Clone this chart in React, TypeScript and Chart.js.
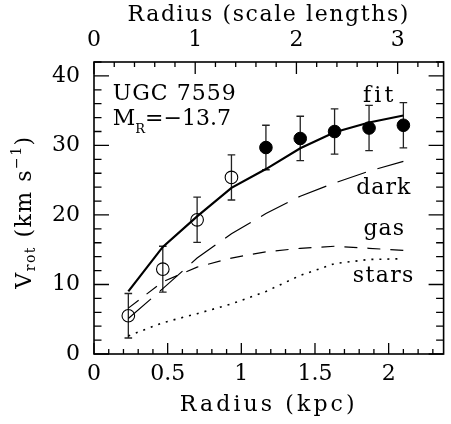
import React, { useEffect, useRef } from "react";
import { Chart, registerables } from "chart.js";

Chart.register(...registerables);

const FONT = '"DejaVu Serif", serif';

// Observed rotation curve (open = inner, filled = outer points)
const openRadius = [0.233, 0.467, 0.7, 0.933];
const openVel = [5.5, 12.2, 19.3, 25.4];
const openErr = [3.2, 3.3, 3.25, 3.25];

const filledRadius = [1.167, 1.4, 1.633, 1.867, 2.1];
const filledVel = [29.7, 31.0, 32.0, 32.5, 32.9];
const filledErr = [3.2, 3.2, 3.25, 3.25, 3.25];

// Mass model components
const modelRadius = [0.233, 0.467, 0.7, 0.933, 1.167, 1.4, 1.633, 1.867, 2.1];
const fitVel = [9.0, 15.4, 19.8, 23.9, 26.6, 29.6, 31.9, 33.3, 34.3];
const darkVel = [5.1, 9.4, 13.8, 17.3, 20.2, 22.7, 24.6, 26.3, 27.7];
const gasVel = [6.6, 10.4, 12.5, 13.8, 14.7, 15.2, 15.5, 15.2, 14.9];
const starsVel = [2.6, 4.5, 5.8, 7.2, 9.0, 11.3, 13.0, 13.6, 13.7];

// Axes
const xTicks = [0, 0.5, 1, 1.5, 2];
const topTicks = [0, 1, 2, 3];
const yTicks = [0, 10, 20, 30, 40];
const X_MAX = 2.373;
const Y_MAX = 42;
const SCALE_LENGTH_KPC = 0.687;

const curveLabels = [
  { text: "fit", x: 1.94, y: 36.3, spacing: 3.2 },
  { text: "dark", x: 1.967, y: 23.0, spacing: 1 },
  { text: "gas", x: 1.97, y: 17.1, spacing: 1 },
  { text: "stars", x: 1.967, y: 10.4, spacing: 1.4 },
];

type Piece = { t: string; size: number; dy?: number };

function drawPieces(
  ctx: any,
  pieces: Piece[],
  x: number,
  y: number,
  spacing: number,
  align: "left" | "center"
) {
  ctx.textAlign = "left";
  ctx.textBaseline = "alphabetic";
  ctx.letterSpacing = spacing + "px";
  let w = 0;
  for (const p of pieces) {
    ctx.font = `${p.size}px ${FONT}`;
    w += ctx.measureText(p.t).width;
  }
  let cx = align === "center" ? x - w / 2 : x;
  for (const p of pieces) {
    ctx.font = `${p.size}px ${FONT}`;
    ctx.fillText(p.t, cx, y + (p.dy || 0));
    cx += ctx.measureText(p.t).width;
  }
}

const decorPlugin = {
  id: "decor",
  beforeDatasetsDraw(chart: any) {
    const ctx = chart.ctx;
    const xs = chart.scales.x;
    const ys = chart.scales.y;
    ctx.save();
    ctx.strokeStyle = "#222";
    ctx.lineWidth = 1.3;
    const sets = [
      [openRadius, openVel, openErr],
      [filledRadius, filledVel, filledErr],
    ];
    for (const [rr, vv, ee] of sets) {
      for (let i = 0; i < rr.length; i++) {
        const px = xs.getPixelForValue(rr[i]);
        const top = ys.getPixelForValue(vv[i] + ee[i]);
        const bot = ys.getPixelForValue(vv[i] - ee[i]);
        ctx.beginPath();
        ctx.moveTo(px, top);
        ctx.lineTo(px, bot);
        ctx.moveTo(px - 3.8, top);
        ctx.lineTo(px + 3.8, top);
        ctx.moveTo(px - 3.8, bot);
        ctx.lineTo(px + 3.8, bot);
        ctx.stroke();
      }
    }
    ctx.restore();
  },
  afterDraw(chart: any) {
    const ctx = chart.ctx;
    const { left, right, top, bottom } = chart.chartArea;
    const xs = chart.scales.x;
    const x2 = chart.scales.x2;
    const ys = chart.scales.y;
    ctx.save();
    ctx.strokeStyle = "#000";
    ctx.lineWidth = 1.3;
    ctx.beginPath();
    for (let i = 0; i * 2 <= Y_MAX; i++) {
      const v = i * 2;
      const py = ys.getPixelForValue(v);
      const len = v % 10 === 0 ? 15 : 7.5;
      ctx.moveTo(left, py);
      ctx.lineTo(left + len, py);
      ctx.moveTo(right, py);
      ctx.lineTo(right - len, py);
    }
    for (let i = 0; i * 0.1 <= X_MAX; i++) {
      const px = xs.getPixelForValue(i * 0.1);
      const len = i % 5 === 0 ? 11 : 5;
      ctx.moveTo(px, bottom);
      ctx.lineTo(px, bottom - len);
    }
    const topMax = X_MAX / SCALE_LENGTH_KPC;
    for (let i = 0; i * 0.2 <= topMax; i++) {
      const px = x2.getPixelForValue(i * 0.2);
      const len = i % 5 === 0 ? 12 : 5;
      ctx.moveTo(px, top);
      ctx.lineTo(px, top + len);
    }
    ctx.stroke();
    ctx.lineWidth = 1.6;
    ctx.strokeRect(left, top, right - left, bottom - top);

    ctx.fillStyle = "#000";
    const cxMid = (left + right) / 2;
    drawPieces(ctx, [{ t: "Radius (kpc)", size: 22 }], cxMid, bottom + 57, 3.1, "center");
    drawPieces(ctx, [{ t: "Radius (scale lengths)", size: 22 }], cxMid, top - 41, 1.6, "center");

    ctx.save();
    ctx.translate(31, (top + bottom) / 2 + 4);
    ctx.rotate(-Math.PI / 2);
    drawPieces(
      ctx,
      [
        { t: "V", size: 22 },
        { t: "rot", size: 14, dy: 4 },
        { t: " (km s", size: 22 },
        { t: "\u22121", size: 14, dy: -10 },
        { t: ")", size: 22 },
      ],
      0,
      0,
      1.5,
      "center"
    );
    ctx.restore();

    const ax = xs.getPixelForValue(0.127);
    drawPieces(ctx, [{ t: "UGC 7559", size: 22 }], ax, ys.getPixelForValue(36.5), 1, "left");
    drawPieces(
      ctx,
      [
        { t: "M", size: 22 },
        { t: "R", size: 13, dy: 8 },
        { t: "=\u221213.7", size: 22 },
      ],
      ax,
      ys.getPixelForValue(32.9),
      0,
      "left"
    );

    for (const lab of curveLabels) {
      drawPieces(
        ctx,
        [{ t: lab.text, size: 22 }],
        xs.getPixelForValue(lab.x),
        ys.getPixelForValue(lab.y),
        lab.spacing,
        "center"
      );
    }
    ctx.restore();
  },
};

const tickFont = { family: FONT, size: 22 };

export default function App() {
  const ref = useRef<HTMLCanvasElement | null>(null);

  useEffect(() => {
    const canvas = ref.current;
    if (!canvas) return;
    const pts = (xs: number[], ys: number[]) => xs.map((x, i) => ({ x, y: ys[i] }));
    const chart = new Chart(canvas, {
      type: "scatter",
      data: {
        datasets: [
          {
            label: "stars",
            data: pts(modelRadius, starsVel),
            showLine: true,
            borderColor: "#000",
            borderWidth: 1.6,
            borderDash: [2, 6],
            pointRadius: 0,
            tension: 0,
          },
          {
            label: "gas",
            data: pts(modelRadius, gasVel),
            showLine: true,
            borderColor: "#000",
            borderWidth: 1.2,
            borderDash: [13, 10],
            pointRadius: 0,
            tension: 0,
          },
          {
            label: "dark",
            data: pts(modelRadius, darkVel),
            showLine: true,
            borderColor: "#000",
            borderWidth: 1.2,
            borderDash: [30, 12],
            pointRadius: 0,
            tension: 0,
          },
          {
            label: "fit",
            data: pts(modelRadius, fitVel),
            showLine: true,
            borderColor: "#000",
            borderWidth: 2.2,
            pointRadius: 0,
            tension: 0,
          },
          {
            label: "open",
            data: pts(openRadius, openVel),
            showLine: false,
            pointStyle: "circle",
            pointRadius: 6.3,
            pointBorderWidth: 1.1,
            pointBorderColor: "#000",
            pointBackgroundColor: "rgba(0,0,0,0)",
          },
          {
            label: "filled",
            data: pts(filledRadius, filledVel),
            showLine: false,
            pointStyle: "circle",
            pointRadius: 6.3,
            pointBorderWidth: 1,
            pointBorderColor: "#000",
            pointBackgroundColor: "#000",
          },
        ],
      },
      options: {
        animation: false,
        responsive: false,
        events: [],
        layout: { padding: { left: 0, right: 1, top: 0, bottom: 0 } },
        plugins: { legend: { display: false }, tooltip: { enabled: false } },
        scales: {
          x: {
            type: "linear",
            position: "bottom",
            min: 0,
            max: X_MAX,
            afterFit: (s: any) => {
              s.height = 70;
            },
            afterBuildTicks: (s: any) => {
              s.ticks = xTicks.map((v) => ({ value: v }));
            },
            ticks: {
              font: tickFont,
              color: "#000",
              padding: 7,
              maxRotation: 0,
              autoSkip: false,
              callback: (v: any) => String(v),
            },
            grid: { display: false, drawTicks: false },
            border: { display: false },
          },
          x2: {
            type: "linear",
            position: "top",
            min: 0,
            max: X_MAX / SCALE_LENGTH_KPC,
            afterFit: (s: any) => {
              s.height = 62;
            },
            afterBuildTicks: (s: any) => {
              s.ticks = topTicks.map((v) => ({ value: v }));
            },
            ticks: {
              font: tickFont,
              color: "#000",
              padding: 9,
              maxRotation: 0,
              autoSkip: false,
              callback: (v: any) => String(v),
            },
            grid: { display: false, drawTicks: false },
            border: { display: false },
          },
          y: {
            type: "linear",
            position: "left",
            min: 0,
            max: Y_MAX,
            afterFit: (s: any) => {
              s.width = 94;
            },
            afterBuildTicks: (s: any) => {
              s.ticks = yTicks.map((v) => ({ value: v }));
            },
            ticks: {
              font: tickFont,
              color: "#000",
              padding: 14,
              autoSkip: false,
              callback: (v: any) => String(v),
            },
            grid: { display: false, drawTicks: false },
            border: { display: false },
          },
        },
      } as any,
      plugins: [decorPlugin as any],
    });
    return () => chart.destroy();
  }, []);

  return (
    <div style={{ position: "absolute", left: 0, top: 0, width: 451, height: 424, background: "#fff" }}>
      <canvas ref={ref} width={451} height={424} style={{ display: "block" }} />
    </div>
  );
}
